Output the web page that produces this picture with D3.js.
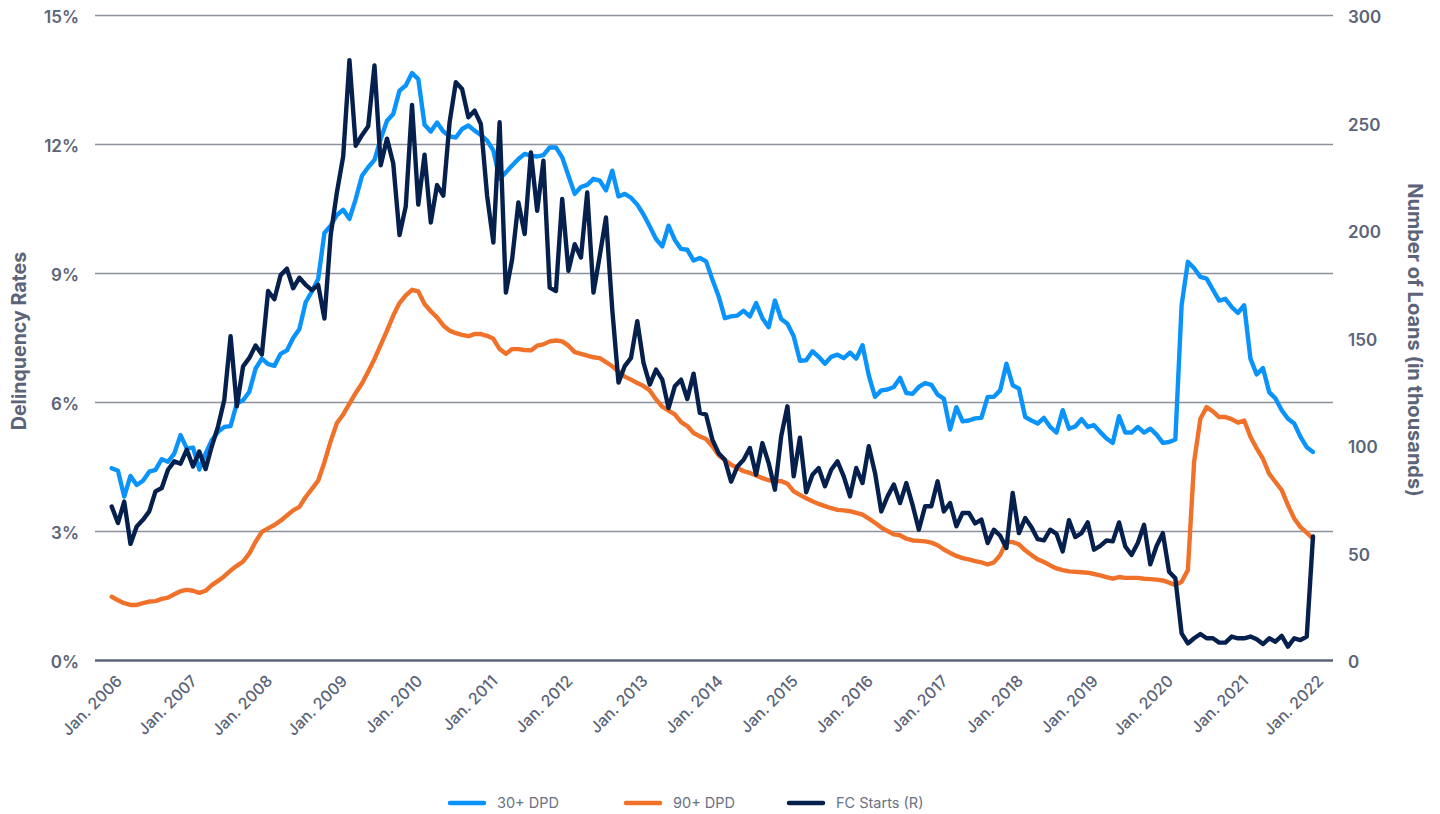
<!DOCTYPE html>
<html>
<head>
<meta charset="utf-8">
<script src="https://cdn.jsdelivr.net/npm/d3@7"></script>
<style>
  html, body { margin: 0; padding: 0; background: #fff; }
  svg { display: block; }
  svg text { font-family: Inter, 'Noto Sans', sans-serif; }
</style>
</head>
<body>
<svg id="chart" width="1440" height="814"></svg>
<script>
// monthly, Jan. 2006 .. Jan. 2022
const startYear = 2006;

// 30+ days past due, %
const dpd30 = [
  4.46, 4.40, 3.80, 4.28, 4.07, 4.17, 4.38, 4.42, 4.67, 4.61, 4.80, 5.23,
  4.92, 4.94, 4.43, 4.80, 5.11, 5.31, 5.42, 5.44, 5.97, 6.04, 6.24, 6.78,
  7.01, 6.88, 6.84, 7.12, 7.20, 7.49, 7.70, 8.32, 8.57, 8.86, 9.93, 10.10,
  10.35, 10.47, 10.26, 10.72, 11.26, 11.46, 11.63, 12.12, 12.54, 12.70, 13.24, 13.36,
  13.65, 13.51, 12.45, 12.29, 12.50, 12.29, 12.18, 12.15, 12.35, 12.43, 12.31, 12.21,
  12.08, 11.85, 11.19, 11.34, 11.50, 11.65, 11.77, 11.73, 11.71, 11.74, 11.92, 11.92,
  11.69, 11.26, 10.84, 11.00, 11.05, 11.19, 11.15, 10.92, 11.38, 10.78, 10.84, 10.75,
  10.59, 10.36, 10.08, 9.79, 9.62, 10.10, 9.77, 9.56, 9.54, 9.29, 9.35, 9.27,
  8.85, 8.46, 7.95, 7.99, 8.01, 8.12, 7.99, 8.30, 7.95, 7.74, 8.36, 7.93,
  7.82, 7.53, 6.96, 6.97, 7.18, 7.05, 6.89, 7.05, 7.10, 7.02, 7.15, 7.01,
  7.32, 6.62, 6.12, 6.27, 6.29, 6.35, 6.56, 6.21, 6.19, 6.35, 6.44, 6.40,
  6.17, 6.08, 5.36, 5.88, 5.55, 5.57, 5.62, 5.63, 6.12, 6.12, 6.27, 6.89,
  6.39, 6.31, 5.65, 5.57, 5.50, 5.63, 5.42, 5.29, 5.81, 5.38, 5.43, 5.60,
  5.42, 5.46, 5.30, 5.15, 5.05, 5.67, 5.29, 5.29, 5.42, 5.29, 5.38, 5.24,
  5.05, 5.07, 5.13, 8.25, 9.26, 9.11, 8.91, 8.87, 8.61, 8.36, 8.40, 8.21,
  8.07, 8.25, 7.01, 6.64, 6.79, 6.23, 6.08, 5.81, 5.61, 5.50, 5.19, 4.95,
  4.84
];

// 90+ days past due, %
const dpd90 = [
  1.47, 1.39, 1.32, 1.28, 1.28, 1.32, 1.36, 1.37, 1.42, 1.45, 1.53, 1.60,
  1.63, 1.61, 1.56, 1.61, 1.74, 1.84, 1.95, 2.08, 2.19, 2.29, 2.48, 2.75,
  2.98, 3.06, 3.14, 3.24, 3.36, 3.48, 3.56, 3.79, 3.98, 4.17, 4.60, 5.09,
  5.51, 5.71, 5.96, 6.21, 6.43, 6.71, 7.00, 7.33, 7.66, 8.01, 8.30, 8.48,
  8.61, 8.57, 8.28, 8.11, 7.97, 7.78, 7.66, 7.60, 7.56, 7.53, 7.58, 7.58,
  7.54, 7.47, 7.23, 7.12, 7.23, 7.23, 7.21, 7.20, 7.31, 7.34, 7.41, 7.43,
  7.41, 7.31, 7.16, 7.12, 7.08, 7.04, 7.02, 6.93, 6.83, 6.71, 6.59, 6.52,
  6.44, 6.37, 6.27, 6.06, 5.89, 5.80, 5.71, 5.53, 5.44, 5.28, 5.20, 5.14,
  4.97, 4.76, 4.65, 4.54, 4.47, 4.39, 4.35, 4.29, 4.23, 4.18, 4.16, 4.16,
  4.10, 3.92, 3.84, 3.76, 3.69, 3.63, 3.58, 3.53, 3.49, 3.48, 3.46, 3.42,
  3.38, 3.29, 3.19, 3.08, 3.00, 2.92, 2.90, 2.82, 2.78, 2.77, 2.76, 2.73,
  2.67, 2.57, 2.49, 2.42, 2.37, 2.34, 2.30, 2.27, 2.22, 2.27, 2.44, 2.75,
  2.74, 2.69, 2.55, 2.44, 2.34, 2.28, 2.20, 2.13, 2.09, 2.06, 2.05, 2.04,
  2.03, 2.00, 1.97, 1.93, 1.89, 1.93, 1.91, 1.91, 1.91, 1.89, 1.88, 1.87,
  1.85, 1.80, 1.74, 1.82, 2.09, 4.61, 5.61, 5.88, 5.78, 5.65, 5.65, 5.60,
  5.52, 5.57, 5.19, 4.92, 4.68, 4.33, 4.14, 3.95, 3.60, 3.29, 3.09, 2.96,
  2.82
];

// foreclosure starts, thousands of loans (right axis)
const fcStarts = [
  71.4, 63.7, 73.7, 54.0, 62.1, 65.2, 69.1, 78.4, 80.0, 88.5, 92.4, 91.3,
  97.8, 90.0, 97.0, 88.8, 99.4, 108.7, 121.1, 150.6, 118.0, 136.6, 140.5, 146.3,
  142.1, 171.6, 167.8, 179.0, 182.0, 172.9, 177.8, 174.5, 172.0, 174.5, 158.8, 197.7,
  217.6, 234.2, 279.0, 239.2, 244.1, 248.3, 276.5, 230.1, 242.5, 230.9, 197.7, 211.0,
  258.2, 211.8, 235.0, 203.5, 220.9, 216.0, 250.0, 268.7, 265.6, 252.4, 255.5, 249.3,
  215.9, 194.2, 250.1, 170.9, 186.4, 212.8, 198.1, 236.1, 208.9, 232.2, 173.2, 171.6,
  214.4, 181.0, 193.4, 187.2, 217.5, 170.9, 188.0, 205.8, 163.1, 129.0, 136.7, 140.5,
  157.6, 138.2, 128.1, 135.1, 130.4, 117.2, 127.3, 130.4, 121.4, 133.2, 114.9, 114.1,
  102.5, 96.2, 93.1, 83.0, 90.0, 93.1, 98.6, 86.2, 100.9, 91.6, 79.2, 104.0,
  118.0, 85.4, 103.4, 78.0, 86.2, 89.3, 80.8, 88.5, 92.4, 85.4, 76.1, 89.3,
  82.3, 99.4, 87.0, 69.1, 76.1, 81.6, 73.0, 82.3, 72.2, 60.6, 71.5, 71.5,
  83.1, 69.1, 73.0, 62.2, 68.4, 68.4, 63.5, 65.3, 54.4, 60.6, 57.8, 52.1,
  77.7, 59.0, 66.0, 61.8, 56.2, 55.6, 60.6, 58.7, 50.5, 65.0, 57.2, 59.0,
  64.0, 51.3, 53.1, 55.6, 55.2, 64.0, 52.8, 48.9, 54.4, 62.9, 44.5, 53.0,
  59.0, 41.1, 38.0, 12.4, 7.7, 10.1, 12.1, 10.1, 10.1, 8.1, 8.1, 10.9,
  10.1, 10.1, 10.9, 9.6, 7.4, 10.1, 8.5, 11.2, 6.2, 10.1, 9.3, 10.9,
  57.5
];

const leftTicks = [0, 3, 6, 9, 12, 15];
const rightTicks = [0, 50, 100, 150, 200, 250, 300];
const yearTicks = d3.range(startYear, 2023);

const series = [
  { name: '30+ DPD', values: dpd30, axis: 'left', color: '#0a93fb' },
  { name: '90+ DPD', values: dpd90, axis: 'left', color: '#f0712a' },
  { name: 'FC Starts (R)', values: fcStarts, axis: 'right', color: '#05204d' },
];

const FONT = "Inter, 'Noto Sans', sans-serif";
const TEXT = '#5b6478';
const LINE_W = 4.4;
const plot = { left: 95, right: 1333, top: 15, bottom: 660 };

const svg = d3.select('#chart');

const x = d3.scaleLinear()
  .domain([0, dpd30.length - 1])
  .range([111.7, 1313]);
const yLeft = d3.scaleLinear().domain([0, 15]).range([plot.bottom, plot.top]);
const yRight = d3.scaleLinear().domain([0, 300]).range([plot.bottom, plot.top]);

// left axis + gridlines
const leftAxis = svg.append('g')
  .attr('transform', `translate(${plot.left},0)`)
  .call(d3.axisLeft(yLeft)
    .tickValues(leftTicks)
    .tickFormat(d => d + '%')
    .tickSize(-(plot.right - plot.left))
    .tickPadding(16))
  .attr('font-family', FONT);
leftAxis.select('.domain').remove();
leftAxis.selectAll('.tick line')
  .attr('stroke', d => d === 0 ? '#5b6478' : '#8c919c')
  .attr('stroke-width', d => d === 0 ? 2.6 : 1.6);
leftAxis.selectAll('.tick text')
  .attr('fill', TEXT)
  .attr('font-size', 17)
  .attr('font-weight', 600)
  .attr('dy', '0.45em');

// right axis
const rightAxis = svg.append('g')
  .attr('transform', `translate(${plot.right},0)`)
  .call(d3.axisRight(yRight)
    .tickValues(rightTicks)
    .tickSize(0)
    .tickPadding(15))
  .attr('font-family', FONT);
rightAxis.select('.domain').remove();
rightAxis.selectAll('.tick text')
  .attr('fill', TEXT)
  .attr('font-size', 17)
  .attr('font-weight', 600)
  .attr('dy', '0.45em');

// x axis, one label per January
const xAxis = svg.append('g')
  .attr('transform', `translate(0,${plot.bottom})`)
  .call(d3.axisBottom(x)
    .tickValues(yearTicks.map(yr => (yr - startYear) * 12))
    .tickFormat(i => 'Jan. ' + (startYear + i / 12))
    .tickSize(0))
  .attr('font-family', FONT);
xAxis.select('.domain').remove();
xAxis.selectAll('.tick text')
  .attr('fill', TEXT)
  .attr('font-size', 16)
  .attr('font-weight', 500)
  .attr('x', 0)
  .attr('y', 0)
  .attr('dy', 0)
  .attr('text-anchor', 'end')
  .attr('transform', 'translate(11,22) rotate(-45)');

// axis titles
svg.append('text')
  .attr('transform', `translate(26,341) rotate(-90)`)
  .attr('text-anchor', 'middle')
  .attr('font-family', FONT)
  .attr('fill', TEXT)
  .attr('font-size', 19.6)
  .attr('font-weight', 700)
  .text('Delinquency Rates');

svg.append('text')
  .attr('transform', `translate(1408,340) rotate(90)`)
  .attr('text-anchor', 'middle')
  .attr('font-family', FONT)
  .attr('fill', TEXT)
  .attr('font-size', 20)
  .attr('font-weight', 700)
  .text('Number of Loans (in thousands)');

// lines
series.forEach(s => {
  const y = s.axis === 'left' ? yLeft : yRight;
  const line = d3.line()
    .x((_, i) => x(i))
    .y(d => y(d));
  svg.append('path')
    .datum(s.values)
    .attr('aria-label', s.name)
    .attr('fill', 'none')
    .attr('stroke', s.color)
    .attr('stroke-width', LINE_W)
    .attr('stroke-linejoin', 'round')
    .attr('stroke-linecap', 'round')
    .attr('d', line);
});

// legend
const legendX = [450, 626, 789];
const legend = svg.append('g')
  .attr('transform', 'translate(0,803)');
series.forEach((s, index) => {
  const g = legend.append('g')
    .attr('transform', `translate(${legendX[index]},0)`);
  g.append('line')
    .attr('x1', 0)
    .attr('x2', 34)
    .attr('stroke', s.color)
    .attr('stroke-width', 4.5)
    .attr('stroke-linecap', 'round');
  g.append('text')
    .attr('x', 47)
    .attr('dy', '0.36em')
    .attr('font-family', FONT)
    .attr('fill', '#6a7283')
    .attr('font-size', 14.5)
    .text(s.name);
});
</script>
</body>
</html>
